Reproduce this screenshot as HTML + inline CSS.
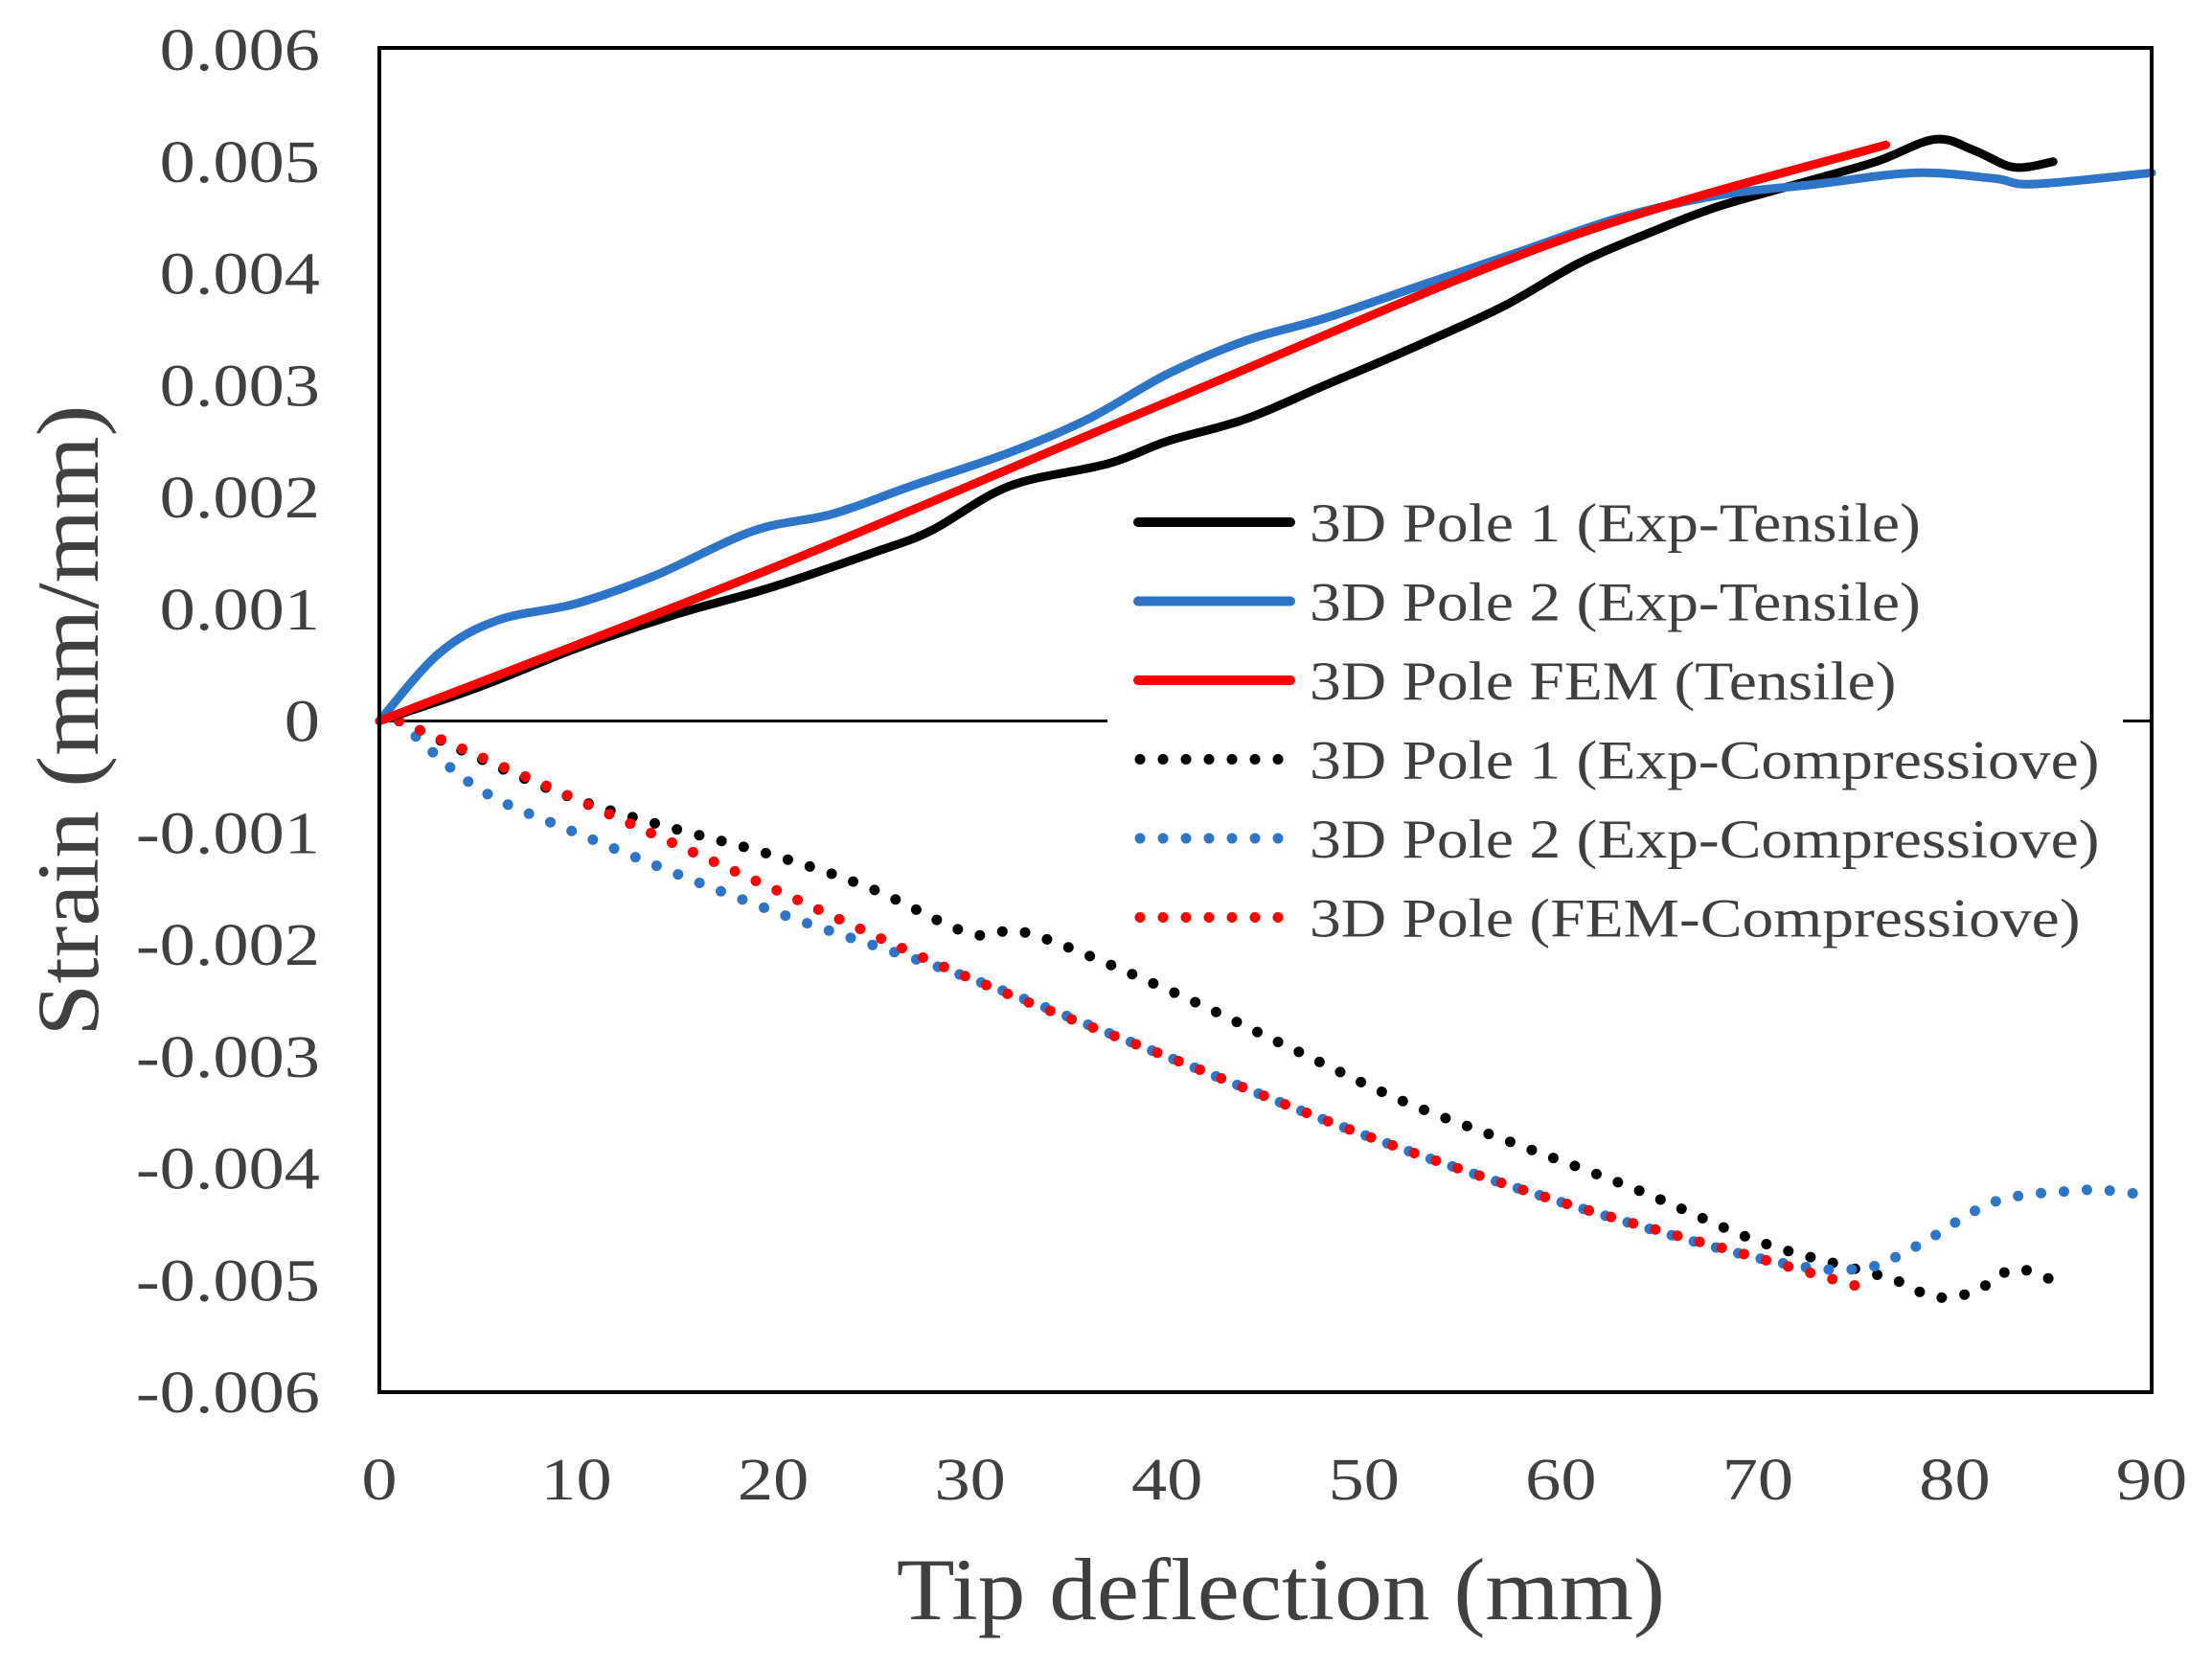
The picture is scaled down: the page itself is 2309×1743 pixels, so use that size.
<!DOCTYPE html>
<html><head><meta charset="utf-8"><style>
html,body{margin:0;padding:0;background:#fff}
svg{display:block}
text{font-family:"Liberation Serif",serif;fill:#404040}
</style></head><body>
<svg id="chart" width="2309" height="1743" viewBox="0 0 2309 1743">
<g id="grid"></g>
<g id="series"></g>
<rect x="396" y="50" width="1850" height="1403" fill="none" stroke="#000" stroke-width="4"/>
<text transform="translate(1337,1690) scale(1.08,1)" font-size="92" text-anchor="middle">Tip deflection (mm)</text>
<text transform="translate(102,752) rotate(-90) scale(1.07,1)" font-size="92" text-anchor="middle">Strain (mm/mm)</text>
<g id="legend"></g>
</svg>
<script>
const xTicks=[0,10,20,30,40,50,60,70,80,90];
const yTicks=[0.006,0.005,0.004,0.003,0.002,0.001,0,-0.001,-0.002,-0.003,-0.004,-0.005,-0.006];
const yTickLabels=["0.006","0.005","0.004","0.003","0.002","0.001","0","-0.001","-0.002","-0.003","-0.004","-0.005","-0.006"];
const p1tX=[0,5,10,15,20,25,28,32,37,40,44,48,52,57,61,65,68,72,76,79,81,83,85];
const p1tY=[0,0.0003,0.00065,0.00095,0.0012,0.0015,0.0017,0.0021,0.0023,0.0025,0.0027,0.003,0.0033,0.0037,0.0041,0.0044,0.0046,0.0048,0.005,0.0052,0.0051,0.00495,0.005];
const p2tX=[0,3,6,10,14,19,23,27,32,36,40,44,48,53,58,63,68,73,78,82,84,90];
const p2tY=[0,0.0006,0.0009,0.00105,0.0013,0.0017,0.00185,0.0021,0.0024,0.0027,0.0031,0.0034,0.0036,0.0039,0.0042,0.0045,0.0047,0.0048,0.0049,0.00485,0.0048,0.0049];
const femtX=[0,20,40,60,76.5];
const femtY=[0,0.00137,0.00285,0.0043,0.00515];
const p1cX=[1,10,20,25,30,33,40,46,52,58,64,70,75,77,79,81,83,85];
const p1cY=[0,-0.0007,-0.0012,-0.0015,-0.0019,-0.0019,-0.0024,-0.0029,-0.0034,-0.0038,-0.0042,-0.00465,-0.0049,-0.005,-0.00515,-0.0051,-0.0049,-0.005];
const p2cX=[1,5,10,20,30,40,50,60,70,75,78,82,86,88,90];
const p2cY=[0,-0.0006,-0.001,-0.0017,-0.0023,-0.003,-0.0037,-0.0043,-0.0048,-0.0049,-0.0047,-0.0043,-0.0042,-0.0042,-0.00425];
const femcX=[1,10,20,30,40,50,60,70,76];
const femcY=[0,-0.0007,-0.0015,-0.0023,-0.003,-0.0037,-0.0043,-0.0048,-0.0051];
const legendLabels=["3D Pole 1 (Exp-Tensile)","3D Pole 2 (Exp-Tensile)","3D Pole FEM (Tensile)","3D Pole 1 (Exp-Compressiove)","3D Pole 2 (Exp-Compressiove)","3D Pole (FEM-Compressiove)"];

const L=396,R=2246,T=52,B=1453;
const sx=v=>L+(v-0)/90*(R-L);
const sy=v=>T+(0.006-v)/0.012*(B-T);
const NS="http://www.w3.org/2000/svg";
function mk(tag,attrs,parent){const e=document.createElementNS(NS,tag);for(const k in attrs)e.setAttribute(k,attrs[k]);parent.appendChild(e);return e;}
const grid=document.getElementById('grid'),series=document.getElementById('series'),leg=document.getElementById('legend');

const zl=mk('line',{x1:L,x2:R,y1:sy(0),y2:sy(0),stroke:'#000','stroke-width':3},grid);


yTicks.forEach((v,i)=>{const t=mk('text',{transform:`translate(334,${sy(v)+21}) scale(1.2,1)`,'font-size':62,'text-anchor':'end'},grid);t.textContent=yTickLabels[i];

});
xTicks.forEach(v=>{const t=mk('text',{transform:`translate(${sx(v)},1565) scale(1.2,1)`,'font-size':62,'text-anchor':'middle'},grid);t.textContent=v;

});

function path(xs,ys){const p=xs.map((x,i)=>[sx(x),sy(ys[i])]);let d=`M${p[0][0]},${p[0][1]}`;
for(let i=0;i<p.length-1;i++){const p0=p[i-1]||p[i],p1=p[i],p2=p[i+1],p3=p[i+2]||p2;
d+=` C${p1[0]+(p2[0]-p0[0])/6},${p1[1]+(p2[1]-p0[1])/6} ${p2[0]-(p3[0]-p1[0])/6},${p2[1]-(p3[1]-p1[1])/6} ${p2[0]},${p2[1]}`;}return d;}
const defs=[[p1cX,p1cY,'#000',1,'series-pole1-compressive'],[p2cX,p2cY,'#2e75c8',1,'series-pole2-compressive'],[femcX,femcY,'#ff0000',1,'series-fem-compressive'],
[p1tX,p1tY,'#000',0,'series-pole1-tensile'],[p2tX,p2tY,'#2e75c8',0,'series-pole2-tensile'],[femtX,femtY,'#ff0000',0,'series-fem-tensile']];
defs.forEach(s=>{const a={d:path(s[0],s[1]),fill:'none',stroke:s[2],'stroke-width':s[3]?11:9,'stroke-linecap':'round'};
if(s[3])a['stroke-dasharray']='0 24';const e=mk('path',a,series);

});

const bg=mk('rect',{x:1156,y:500,width:1060,height:500,fill:'#fff'},leg);


const cols=['#000','#2e75c8','#ff0000','#000','#2e75c8','#ff0000'];
legendLabels.forEach((lab,i)=>{const y=545+i*82.5;const a={x1:1188,x2:1347,y1:y,y2:y,stroke:cols[i],'stroke-width':i<3?10:11,'stroke-linecap':'round'};
if(i>=3){a['stroke-dasharray']='0 24';a.x1=1190;}
const ln=mk('line',a,leg);


const t=mk('text',{transform:`translate(1367,${y+20}) scale(1.15,1)`,'font-size':57},leg);t.textContent=lab;

});
</script>
</body></html>
